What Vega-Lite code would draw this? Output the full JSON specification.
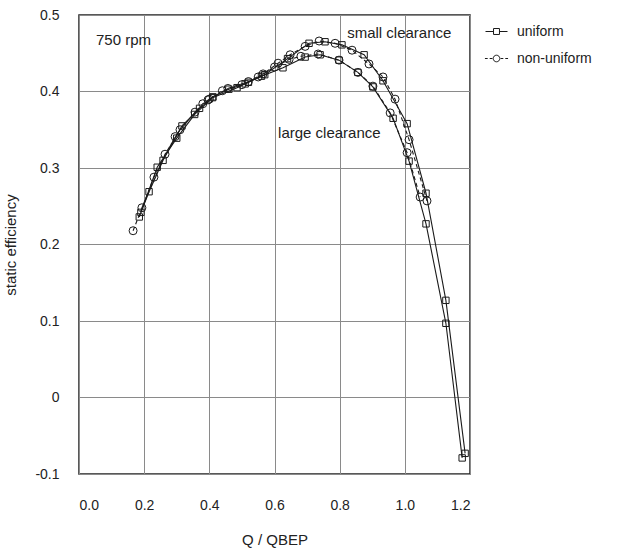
{
  "$schema": "https://vega.github.io/schema/vega-lite/v6.json",
  "width": 391,
  "height": 459,
  "autosize": {"type": "none"},
  "padding": {"left": 79, "top": 15, "right": 148, "bottom": 80},
  "config": {
    "font": "Liberation Sans",
    "view": {"stroke": "#222", "strokeWidth": 1.5},
    "axis": {"labelFont": "Liberation Sans", "titleFont": "Liberation Sans", "labelColor": "#222", "titleColor": "#222", "labelFontSize": 14, "titleFontSize": 15, "titleFontWeight": "normal", "ticks": false, "domain": false, "gridColor": "#8a8a8a", "gridWidth": 1, "gridOpacity": 1},
    "legend": {"labelFont": "Liberation Sans", "labelFontSize": 14, "labelColor": "#222"}
  },
  "resolve": {"scale": {"shape": "independent"}, "legend": {"shape": "independent"}},
  "datasets": {
    "curves": [
      {"series": "S-U", "type": "uniform", "x": 0.185, "y": 0.236},
      {"series": "S-U", "type": "uniform", "x": 0.24, "y": 0.301},
      {"series": "S-U", "type": "uniform", "x": 0.30, "y": 0.339},
      {"series": "S-U", "type": "uniform", "x": 0.355, "y": 0.370},
      {"series": "S-U", "type": "uniform", "x": 0.41, "y": 0.392},
      {"series": "S-U", "type": "uniform", "x": 0.485, "y": 0.405},
      {"series": "S-U", "type": "uniform", "x": 0.52, "y": 0.412},
      {"series": "S-U", "type": "uniform", "x": 0.57, "y": 0.422},
      {"series": "S-U", "type": "uniform", "x": 0.64, "y": 0.443},
      {"series": "S-U", "type": "uniform", "x": 0.706, "y": 0.463},
      {"series": "S-U", "type": "uniform", "x": 0.755, "y": 0.465},
      {"series": "S-U", "type": "uniform", "x": 0.807, "y": 0.461},
      {"series": "S-U", "type": "uniform", "x": 0.875, "y": 0.448},
      {"series": "S-U", "type": "uniform", "x": 0.933, "y": 0.414},
      {"series": "S-U", "type": "uniform", "x": 1.007, "y": 0.358},
      {"series": "S-U", "type": "uniform", "x": 1.065, "y": 0.267},
      {"series": "S-U", "type": "uniform", "x": 1.126, "y": 0.127},
      {"series": "S-U", "type": "uniform", "x": 1.185, "y": -0.073},
      {"series": "L-U", "type": "uniform", "x": 0.19, "y": 0.242},
      {"series": "L-U", "type": "uniform", "x": 0.215, "y": 0.269},
      {"series": "L-U", "type": "uniform", "x": 0.258, "y": 0.310},
      {"series": "L-U", "type": "uniform", "x": 0.316, "y": 0.355},
      {"series": "L-U", "type": "uniform", "x": 0.37, "y": 0.378},
      {"series": "L-U", "type": "uniform", "x": 0.411, "y": 0.393},
      {"series": "L-U", "type": "uniform", "x": 0.46, "y": 0.403},
      {"series": "L-U", "type": "uniform", "x": 0.51, "y": 0.410},
      {"series": "L-U", "type": "uniform", "x": 0.56, "y": 0.420},
      {"series": "L-U", "type": "uniform", "x": 0.626, "y": 0.431},
      {"series": "L-U", "type": "uniform", "x": 0.694, "y": 0.445},
      {"series": "L-U", "type": "uniform", "x": 0.74, "y": 0.448},
      {"series": "L-U", "type": "uniform", "x": 0.798, "y": 0.441},
      {"series": "L-U", "type": "uniform", "x": 0.856, "y": 0.425},
      {"series": "L-U", "type": "uniform", "x": 0.902, "y": 0.406},
      {"series": "L-U", "type": "uniform", "x": 0.964, "y": 0.365},
      {"series": "L-U", "type": "uniform", "x": 1.013, "y": 0.309},
      {"series": "L-U", "type": "uniform", "x": 1.065, "y": 0.227},
      {"series": "L-U", "type": "uniform", "x": 1.126, "y": 0.097},
      {"series": "L-U", "type": "uniform", "x": 1.176, "y": -0.079},
      {"series": "S-N", "type": "non-uniform", "x": 0.166, "y": 0.218},
      {"series": "S-N", "type": "non-uniform", "x": 0.23, "y": 0.288},
      {"series": "S-N", "type": "non-uniform", "x": 0.295, "y": 0.341},
      {"series": "S-N", "type": "non-uniform", "x": 0.356, "y": 0.373},
      {"series": "S-N", "type": "non-uniform", "x": 0.396, "y": 0.389},
      {"series": "S-N", "type": "non-uniform", "x": 0.457, "y": 0.404},
      {"series": "S-N", "type": "non-uniform", "x": 0.52, "y": 0.413},
      {"series": "S-N", "type": "non-uniform", "x": 0.565, "y": 0.423},
      {"series": "S-N", "type": "non-uniform", "x": 0.611, "y": 0.437},
      {"series": "S-N", "type": "non-uniform", "x": 0.648, "y": 0.448},
      {"series": "S-N", "type": "non-uniform", "x": 0.694, "y": 0.459},
      {"series": "S-N", "type": "non-uniform", "x": 0.737, "y": 0.466},
      {"series": "S-N", "type": "non-uniform", "x": 0.786, "y": 0.463},
      {"series": "S-N", "type": "non-uniform", "x": 0.838, "y": 0.454},
      {"series": "S-N", "type": "non-uniform", "x": 0.89, "y": 0.436},
      {"series": "S-N", "type": "non-uniform", "x": 0.933, "y": 0.419},
      {"series": "S-N", "type": "non-uniform", "x": 0.97, "y": 0.390},
      {"series": "S-N", "type": "non-uniform", "x": 1.013, "y": 0.337},
      {"series": "S-N", "type": "non-uniform", "x": 1.068, "y": 0.257},
      {"series": "L-N", "type": "non-uniform", "x": 0.193, "y": 0.248},
      {"series": "L-N", "type": "non-uniform", "x": 0.264, "y": 0.318},
      {"series": "L-N", "type": "non-uniform", "x": 0.31, "y": 0.350},
      {"series": "L-N", "type": "non-uniform", "x": 0.38, "y": 0.384},
      {"series": "L-N", "type": "non-uniform", "x": 0.40, "y": 0.390},
      {"series": "L-N", "type": "non-uniform", "x": 0.44, "y": 0.401},
      {"series": "L-N", "type": "non-uniform", "x": 0.50, "y": 0.409},
      {"series": "L-N", "type": "non-uniform", "x": 0.55, "y": 0.419},
      {"series": "L-N", "type": "non-uniform", "x": 0.60, "y": 0.432},
      {"series": "L-N", "type": "non-uniform", "x": 0.645, "y": 0.442},
      {"series": "L-N", "type": "non-uniform", "x": 0.681, "y": 0.446},
      {"series": "L-N", "type": "non-uniform", "x": 0.734, "y": 0.449},
      {"series": "L-N", "type": "non-uniform", "x": 0.798, "y": 0.441},
      {"series": "L-N", "type": "non-uniform", "x": 0.856, "y": 0.425},
      {"series": "L-N", "type": "non-uniform", "x": 0.902, "y": 0.407},
      {"series": "L-N", "type": "non-uniform", "x": 0.955, "y": 0.372},
      {"series": "L-N", "type": "non-uniform", "x": 1.007, "y": 0.320},
      {"series": "L-N", "type": "non-uniform", "x": 1.047, "y": 0.262}
    ],
    "notes": [
      {"x": 0.052, "y": 0.467, "label": "750 rpm"},
      {"x": 0.823, "y": 0.476, "label": "small clearance"},
      {"x": 0.611, "y": 0.346, "label": "large clearance"}
    ]
  },
  "layer": [
    {
      "data": {"name": "curves"},
      "transform": [{"filter": "datum.type === 'uniform'"}],
      "mark": {"type": "line", "color": "#1a1a1a", "strokeWidth": 1.1},
      "encoding": {
        "x": {"field": "x", "type": "quantitative", "scale": {"domain": [0, 1.2], "nice": false}, "axis": {"values": [0, 0.2, 0.4, 0.6, 0.8, 1.0, 1.2], "format": ".1f", "title": "Q / QBEP", "labelPadding": 24, "titlePadding": 20, "grid": true}},
        "y": {"field": "y", "type": "quantitative", "scale": {"domain": [-0.1, 0.5], "nice": false, "zero": false}, "axis": {"values": [-0.1, 0, 0.1, 0.2, 0.3, 0.4, 0.5], "labelExpr": "datum.value == 0 ? '0' : (datum.value < 0 ? '-' + format(-datum.value, '.1f') : format(datum.value, '.1f'))", "title": "static efficiency", "labelPadding": 20, "titlePadding": 16, "grid": true}},
        "detail": {"field": "series"}
      }
    },
    {
      "data": {"name": "curves"},
      "transform": [{"filter": "datum.type === 'non-uniform'"}],
      "mark": {"type": "line", "color": "#1a1a1a", "strokeWidth": 1.1, "strokeDash": [4, 3]},
      "encoding": {
        "x": {"field": "x", "type": "quantitative"},
        "y": {"field": "y", "type": "quantitative"},
        "detail": {"field": "series"}
      }
    },
    {
      "data": {"name": "curves"},
      "mark": {"type": "point", "filled": false, "stroke": "#1a1a1a", "strokeWidth": 1, "size": 64, "opacity": 1},
      "encoding": {
        "x": {"field": "x", "type": "quantitative"},
        "y": {"field": "y", "type": "quantitative"},
        "shape": {"field": "type", "type": "nominal", "scale": {"domain": ["uniform", "non-uniform"], "range": ["M-0.8,-0.8H0.8V0.8H-0.8Z", "circle"]}, "legend": null}
      }
    },
    {
      "data": {"name": "curves"},
      "mark": {"type": "point", "filled": false, "stroke": "#1a1a1a", "strokeWidth": 1, "size": 64, "opacity": 0},
      "encoding": {
        "x": {"field": "x", "type": "quantitative"},
        "y": {"field": "y", "type": "quantitative"},
        "shape": {"field": "type", "type": "nominal",
          "scale": {"domain": ["uniform", "non-uniform"], "range": ["M-1,0H-0.27M0.27,0H1M-0.27,-0.27H0.27V0.27H-0.27Z", "M-1.05,0H-0.8M-0.62,0H-0.37M0.37,0H0.62M0.8,0H1.05M0.3,0A0.3,0.3 0 1,1 -0.3,0A0.3,0.3 0 1,1 0.3,0Z"]},
          "legend": {"title": null, "orient": "right", "offset": 10, "padding": 5, "symbolSize": 484, "symbolOpacity": 1, "symbolStrokeColor": "#1a1a1a", "symbolStrokeWidth": 1, "rowPadding": 8, "labelOffset": 9}
        }
      }
    },
    {
      "data": {"name": "notes"},
      "mark": {"type": "text", "align": "left", "baseline": "middle", "fontSize": 15, "color": "#222", "font": "Liberation Sans"},
      "encoding": {
        "x": {"field": "x", "type": "quantitative"},
        "y": {"field": "y", "type": "quantitative"},
        "text": {"field": "label"}
      }
    }
  ]
}
